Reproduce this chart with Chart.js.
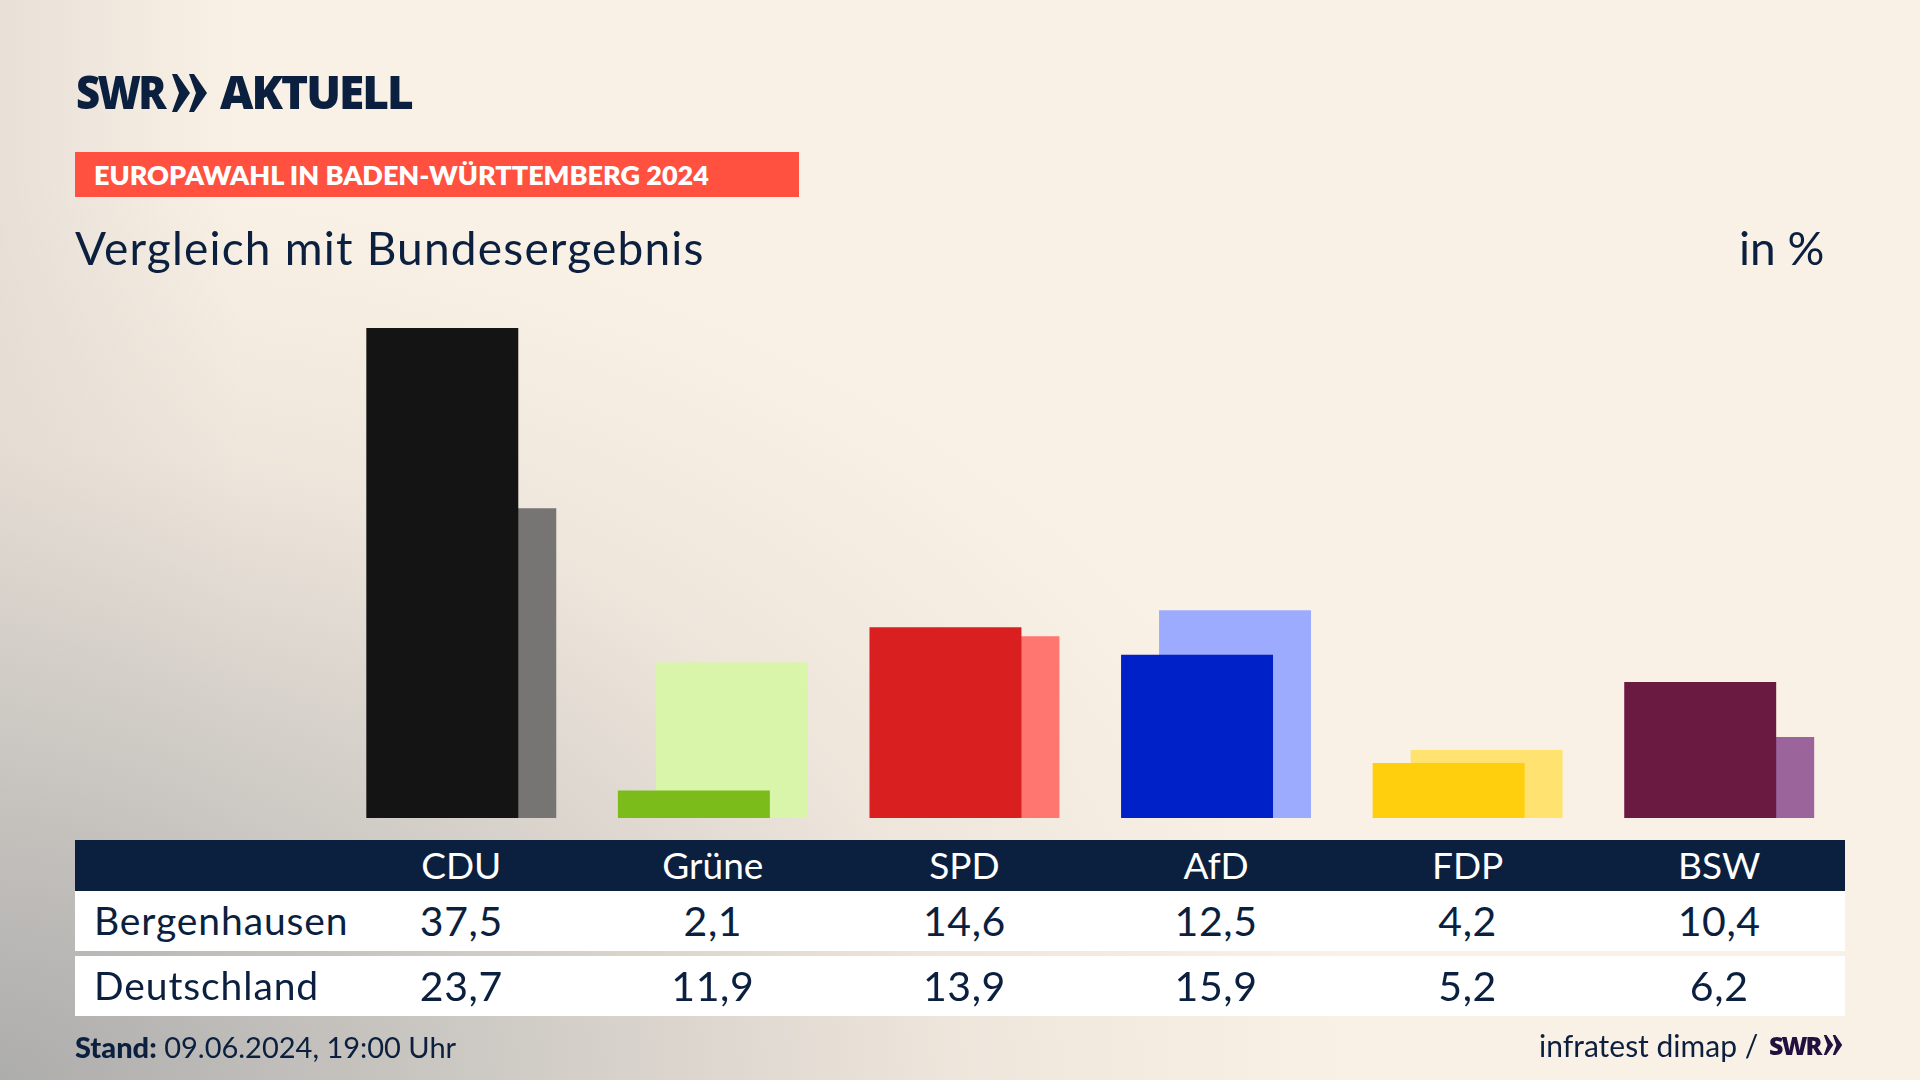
<!DOCTYPE html>
<html lang="de">
<head>
<meta charset="utf-8">
<title>Europawahl in Baden-Württemberg 2024</title>
<script src="https://cdn.jsdelivr.net/npm/chart.js@4"></script>
<style>
html, body { margin: 0; padding: 0; }
body {
    width: 1920px; height: 1080px; overflow: hidden; position: relative;
    background-color: #faf1e6;
    background-image:
        radial-gradient(ellipse 1350px 900px at 0px 1080px, rgba(170,170,170,0.95) 0%, rgba(195,192,188,0.78) 38%, rgba(225,217,208,0.5) 70%, rgba(250,241,230,0) 100%),
        linear-gradient(90deg, rgba(214,208,200,0.5) 0px, rgba(250,241,230,0) 240px);
    font-family: Lato, sans-serif;
    color: #0b1f3f;
}
canvas { position: absolute; left: 0; top: 0; }
.txt { position: absolute; white-space: nowrap; line-height: 1; }
.band { position: absolute; }
</style>
</head>
<body>
<canvas id="chart" width="1920" height="1080"></canvas>

<div class="txt" style="left:76px;top:60px;font:900 46px 'Open Sans';letter-spacing:-3px;transform-origin:left;transform:scaleX(0.91)">SWR</div>
<svg class="band" style="left:172px;top:74px" width="35" height="38" viewBox="0 0 35 38">
    <path d="M0 0 H5 L18 19 L5 38 H0 L7 19 Z M17 0 H22 L35 19 L22 38 H17 L24 19 Z" fill="#0b1f3f"/>
</svg>
<div class="txt" style="left:220px;top:60px;font:900 46px 'Open Sans';letter-spacing:-2px;transform-origin:left;transform:scaleX(1)">AKTUELL</div>

<div class="band" style="left:75px;top:152px;width:724px;height:45px;background:#ff5040"></div>
<div class="txt" style="left:94px;top:158px;font:800 27px Lato;color:#fff">EUROPAWAHL IN BADEN-WÜRTTEMBERG 2024</div>
<div class="txt" style="left:75px;top:220px;font:400 46px Lato;letter-spacing:1.2px">Vergleich mit Bundesergebnis</div>
<div class="txt" style="left:1739px;top:220px;font:400 46px Lato">in %</div>

<div id="table"></div>

<div class="txt" style="left:75px;top:1029px;font:400 29px Lato"><b style="font-weight:900">Stand:</b> 09.06.2024, 19:00 Uhr</div>
<div class="txt" style="left:1539px;top:1027px;font:400 30px Lato">infratest dimap /</div>
<div class="txt" style="left:1769px;top:1028px;font:900 25px 'Open Sans';letter-spacing:-2px;color:#22103f">SWR</div>
<svg class="band" style="left:1822px;top:1035px" width="22" height="20" viewBox="0 0 35 38">
    <path d="M0 0 H5 L18 19 L5 38 H0 L7 19 Z M17 0 H22 L35 19 L22 38 H17 L24 19 Z" fill="#22103f"/>
</svg>

<script>
// Chart data
const parties = ['CDU', 'Grüne', 'SPD', 'AfD', 'FDP', 'BSW'];
const rowLabels = ['Bergenhausen', 'Deutschland'];
const bergenhausen = [37.5, 2.1, 14.6, 12.5, 4.2, 10.4];
const deutschland = [23.7, 11.9, 13.9, 15.9, 5.2, 6.2];
const frontColors = ['#141414', '#7bbc1a', '#d91f1f', '#0021c8', '#ffce0c', '#6a1a40'];
const backColors = ['#767573', '#d8f5aa', '#ff7570', '#9dabff', '#ffe270', '#9b659b'];

function initChart() {
    const ctx = document.getElementById('chart').getContext('2d');
    return new Chart(ctx, {
        type: 'bar',
        data: {
            labels: parties,
            datasets: [
                { label: rowLabels[0], data: bergenhausen, backgroundColor: frontColors },
                { label: rowLabels[1], data: deutschland, backgroundColor: backColors }
            ]
        },
        options: {
            responsive: false,
            animation: false,
            // barPercentage above 1 makes the two bars of a party overlap
            barPercentage: 4,
            categoryPercentage: 0.302,
            layout: { padding: { left: 335.5, right: 75, top: 328, bottom: 262 } },
            plugins: { legend: { display: false }, tooltip: { enabled: false } },
            scales: {
                x: { display: false },
                y: { display: false, min: 0, max: 37.5 }
            }
        }
    });
}

function addText(parent, text, style) {
    const el = document.createElement('div');
    el.className = 'txt';
    el.textContent = text;
    el.style.cssText = style;
    parent.appendChild(el);
    return el;
}

function addBand(parent, top, height, color) {
    const el = document.createElement('div');
    el.className = 'band';
    el.style.cssText = `left:75px;top:${top}px;width:1770px;height:${height}px;background:${color}`;
    parent.appendChild(el);
}

// Table under the bars, its columns sit on the chart's own category positions
function buildTable(chart) {
    const table = document.getElementById('table');
    addBand(table, 840, 51, '#0b1f3f');
    addBand(table, 891, 60, '#ffffff');
    addBand(table, 956, 60, '#ffffff');

    const xScale = chart.scales.x;
    const numStyle = 'font:400 41px Lato;letter-spacing:0.6px;transform:translateX(-50%)';
    parties.forEach((party, i) => {
        const cx = xScale.getPixelForValue(i);
        addText(table, party, `left:${cx}px;top:842px;font:400 37px Lato;color:#fff;transform:translateX(-50%)`);
        addText(table, bergenhausen[i].toFixed(1).replace('.', ','), `left:${cx}px;top:896px;${numStyle}`);
        addText(table, deutschland[i].toFixed(1).replace('.', ','), `left:${cx}px;top:961px;${numStyle}`);
    });
    const labelStyle = 'font:400 39px Lato;letter-spacing:0.9px';
    addText(table, rowLabels[0], `left:94px;top:897px;${labelStyle}`);
    addText(table, rowLabels[1], `left:94px;top:962px;${labelStyle}`);
}

window.onload = () => {
    const chart = initChart();
    buildTable(chart);
};
</script>
</body>
</html>
